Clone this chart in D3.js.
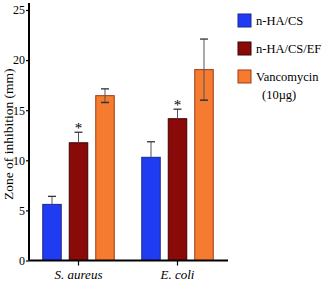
<!DOCTYPE html>
<html>
<head>
<meta charset="utf-8">
<script src="https://cdn.jsdelivr.net/npm/d3@7"></script>
<style>
  body { margin: 0; background: #fff; }
  text { font-family: "Liberation Serif", "DejaVu Serif", serif; fill: #000; }
</style>
</head>
<body>
<div id="chart"></div>
<script>
var categories = ["S. aureus", "E. coli"];
var series = ["n-HA/CS", "n-HA/CS/EF", "Vancomycin"];
var legendLabels = [["n-HA/CS"], ["n-HA/CS/EF"], ["Vancomycin", "(10\u00b5g)"]];
var values = [
  [5.6, 11.75, 16.45],   // S. aureus
  [10.3, 14.15, 19.05]   // E. coli
];
var errors = [
  [0.8, 1.05, 0.68],
  [1.55, 0.95, 3.05]
];
var starred = [false, true, false];
var yTicks = [0, 5, 10, 15, 20, 25];

var width = 322,
    height = 282,
    margin = {top: 10, right: 95, bottom: 21.5, left: 29};

var fills = ["#1f3cf2", "#8a0a0a", "#f57b30"],
    strokes = ["#1a2a90", "#3a0505", "#a03a12"];

var svg = d3.select("#chart").append("svg")
    .attr("width", width)
    .attr("height", height);

var y = d3.scaleLinear()
    .domain([0, 25])
    .range([height - margin.bottom, margin.top]);

var x0 = d3.scaleBand()
    .domain(categories)
    .range([margin.left, width - margin.right])
    .paddingInner(0)
    .paddingOuter(0);

var x1 = d3.scaleBand()
    .domain(series)
    .range([0, x0.bandwidth()])
    .paddingInner(0.264)
    .paddingOuter(0.5);

// bars
var group = svg.selectAll("g.group")
    .data(categories)
  .enter().append("g")
    .attr("class", "group")
    .attr("transform", function(d) { return "translate(" + x0(d) + ",0)"; });

group.each(function(cat, ci) {
  var g = d3.select(this);
  series.forEach(function(s, si) {
    var v = values[ci][si], e = errors[ci][si];
    var cx = x1(s) + x1.bandwidth() / 2;

    g.append("rect")
        .attr("x", x1(s) + 0.5)
        .attr("y", y(v))
        .attr("width", x1.bandwidth() - 1)
        .attr("height", y(0) - y(v))
        .attr("fill", fills[si])
        .attr("stroke", strokes[si])
        .attr("stroke-width", 1);

    // error bar; lower half only visible on the vancomycin bars
    var lo = si == 2 ? v - e : v;
    g.append("line")
        .attr("x1", cx).attr("x2", cx)
        .attr("y1", y(lo)).attr("y2", y(v + e))
        .attr("stroke", "#555").attr("stroke-width", 1);
    g.append("line")
        .attr("x1", cx - 4).attr("x2", cx + 4)
        .attr("y1", y(v + e)).attr("y2", y(v + e))
        .attr("stroke", "#333").attr("stroke-width", 1.3);
    if (si == 2) {
      g.append("line")
          .attr("x1", cx - 4).attr("x2", cx + 4)
          .attr("y1", y(v - e)).attr("y2", y(v - e))
          .attr("stroke", "#333").attr("stroke-width", 1.5);
    }

    if (starred[si]) {
      g.append("text")
          .attr("x", cx)
          .attr("y", y(v + e) + 1)
          .attr("text-anchor", "middle")
          .style("font-size", "15px")
          .text("*");
    }
  });
});

// axes
var yAxis = svg.append("g")
    .attr("transform", "translate(" + margin.left + ",0)")
    .call(d3.axisLeft(y).tickValues(yTicks).tickSize(3).tickPadding(1));

var xAxis = svg.append("g")
    .attr("transform", "translate(0," + y(0) + ")")
    .call(d3.axisBottom(x0).tickSize(5).tickPadding(4));

[yAxis, xAxis].forEach(function(a) {
  a.selectAll("path.domain").attr("stroke", "#000").attr("stroke-width", 2);
  a.selectAll(".tick line").attr("stroke", "#000").attr("stroke-width", 1.2);
  a.selectAll("text").attr("fill", "#000").style("font-family", "Liberation Serif, serif");
});
yAxis.select("path.domain").attr("d", "M0," + (margin.top - 7) + "V" + y(0));
yAxis.selectAll("text").style("font-size", "12px");
xAxis.select("path.domain").attr("d", "M" + margin.left + ",0H" + (width - margin.right + 1));
xAxis.selectAll("text")
    .style("font-size", "13px")
    .style("font-style", "italic");

svg.append("text")
    .attr("transform", "translate(13," + (y(12.6)) + ") rotate(-90)")
    .attr("text-anchor", "middle")
    .style("font-size", "13.5px")
    .text("Zone of inhibition (mm)");

// legend
var legend = svg.selectAll("g.legend")
    .data(series)
  .enter().append("g")
    .attr("class", "legend")
    .attr("transform", function(d, i) { return "translate(238," + (14 + i * 28) + ")"; });

legend.append("rect")
    .attr("width", 13)
    .attr("height", 13)
    .attr("fill", function(d, i) { return fills[i]; })
    .attr("stroke", function(d, i) { return strokes[i]; })
    .attr("stroke-width", 1);

legend.append("text")
    .attr("x", 18)
    .attr("y", 11)
    .style("font-size", "12.5px")
    .selectAll("tspan")
    .data(function(d, i) { return legendLabels[i]; })
  .enter().append("tspan")
    .attr("x", function(d, i) { return i ? 24 : 18; })
    .attr("dy", function(d, i) { return i ? 18 : 0; })
    .text(function(d) { return d; });
</script>
</body>
</html>
